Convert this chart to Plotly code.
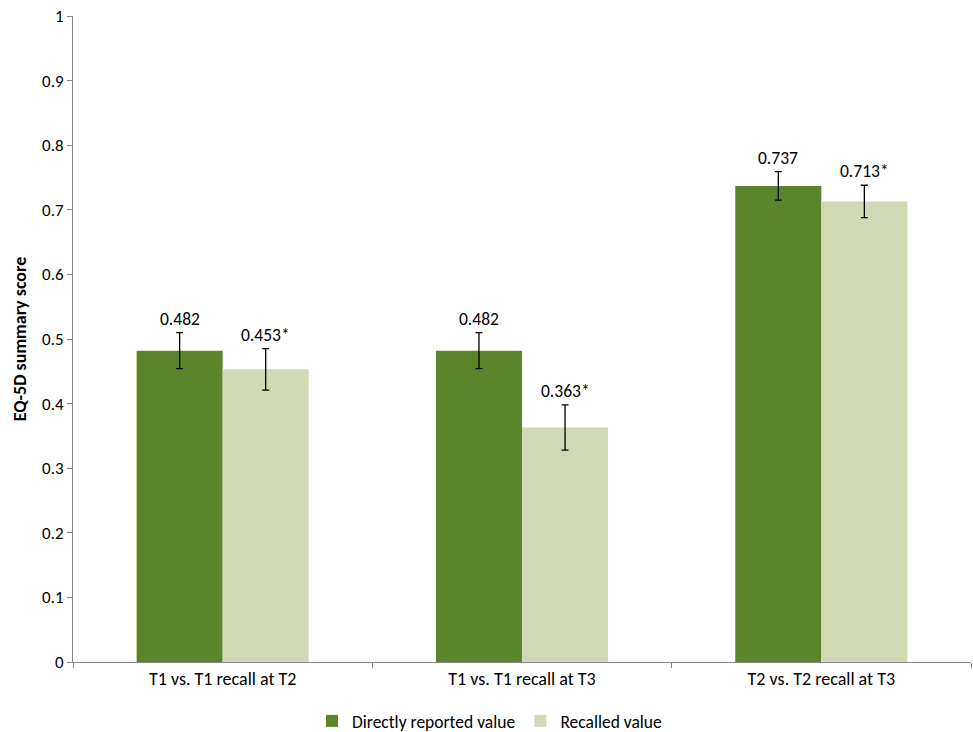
import plotly.graph_objects as go

categories = ["T1 vs. T1 recall at T2", "T1 vs. T1 recall at T3", "T2 vs. T2 recall at T3"]
direct_values = [0.482, 0.482, 0.737]
direct_errors = [0.028, 0.028, 0.022]
direct_labels = ["0.482", "0.482", "0.737"]
recalled_values = [0.453, 0.363, 0.713]
recalled_errors = [0.032, 0.035, 0.025]
recalled_labels = ["0.453*", "0.363*", "0.713*"]
y_ticks = [0, 0.1, 0.2, 0.3, 0.4, 0.5, 0.6, 0.7, 0.8, 0.9, 1]
y_tick_labels = ["0", "0.1", "0.2", "0.3", "0.4", "0.5", "0.6", "0.7", "0.8", "0.9", "1"]

FONT = "Carlito, Liberation Sans, sans-serif"
GREEN = "#5b852a"
LIGHT = "#cfdab5"

W, H = 973, 732

fig = go.Figure()
fig.add_trace(go.Bar(
    name="Directly reported value", x=categories, y=direct_values,
    marker=dict(color=GREEN, line=dict(width=0)),
    error_y=dict(type="data", array=direct_errors, color="black", thickness=1.3, width=3.5),
))
fig.add_trace(go.Bar(
    name="Recalled value", x=categories, y=recalled_values,
    marker=dict(color=LIGHT, line=dict(width=0)),
    error_y=dict(type="data", array=recalled_errors, color="black", thickness=1.3, width=3.5),
))

annotations = []
for cat, v, e, lab in zip(categories, direct_values, direct_errors, direct_labels):
    annotations.append(dict(x=cat, y=v + e, text=lab, showarrow=False, xshift=-43,
                            yanchor="bottom", yshift=1, font=dict(family=FONT, size=17.5, color="black")))
for cat, v, e, lab in zip(categories, recalled_values, recalled_errors, recalled_labels):
    annotations.append(dict(x=cat, y=v + e, text=lab, showarrow=False, xshift=43,
                            yanchor="bottom", yshift=1, font=dict(family=FONT, size=17.5, color="black")))

fig.update_layout(
    width=W, height=H,
    margin=dict(l=73, r=2, t=16, b=70, autoexpand=False),
    paper_bgcolor="white", plot_bgcolor="white",
    barmode="group", bargap=0.425, bargroupgap=0,
    font=dict(family=FONT, size=17.5, color="black"),
    annotations=annotations,
    showlegend=True,
    legend=dict(orientation="h", xref="container", x=312 / W, xanchor="left",
                yref="container", y=11 / H, yanchor="middle",
                font=dict(family=FONT, size=17.5, color="black"), itemwidth=30),
    xaxis=dict(
        automargin=False,
        showline=True, linecolor="#888888", linewidth=1,
        ticks="outside", ticklen=5, tickcolor="#888888", tickson="boundaries",
        showgrid=False, tickfont=dict(family=FONT, size=18, color="black"),
    ),
    yaxis=dict(
        automargin=False, ticklabeloverflow="allow",
        range=[0, 1], tickmode="array", tickvals=y_ticks, ticktext=y_tick_labels,
        showline=True, linecolor="#888888", linewidth=1,
        ticks="outside", ticklen=5, tickcolor="#888888",
        showgrid=False, zeroline=False,
        tickfont=dict(family=FONT, size=17, color="black"),
        title=dict(text="<b>EQ-5D summary score</b>", font=dict(family=FONT, size=18, color="black"), standoff=10),
    ),
)

fig.write_html(
    "out.html",
    config={"displayModeBar": False},
    post_script="document.body.style.margin='0';document.body.style.overflow='hidden';",
)
